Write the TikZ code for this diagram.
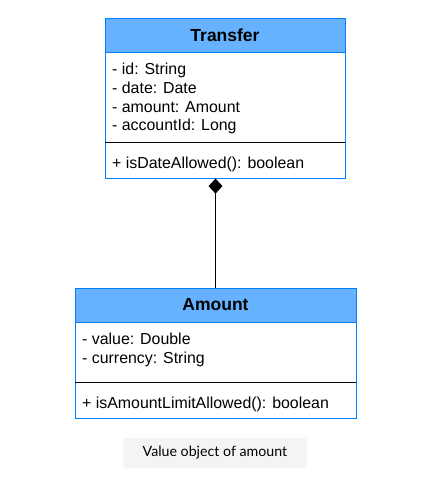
\documentclass[tikz,border=0pt]{standalone}
\usepackage{fontspec}
\setmainfont{Liberation Sans}
\newfontfamily\notefont{Lato}
\usetikzlibrary{positioning,arrows.meta}

\definecolor{headblue}{HTML}{66B2FF}
\definecolor{lineblue}{HTML}{007FFF}
\definecolor{notegray}{HTML}{F4F4F4}

\tikzset{
	head/.style={draw=lineblue,fill=headblue,minimum height=34pt,inner sep=0pt,
		font=\fontsize{17.5}{20}\selectfont\bfseries},
	part/.style={draw=lineblue,inner sep=0pt},
	member/.style={anchor=base west,inner sep=0pt,font=\fontsize{15.9}{19}\selectfont},
	composition/.style={{Diamond[length=15pt,width=14pt]}-,line width=1pt},
	note/.style={fill=notegray,rounded corners=3pt,minimum width=184pt,minimum height=30pt,
		inner sep=0pt,font=\notefont\fontsize{14.2}{16}\selectfont}
}

\begin{document}
\begin{tikzpicture}[x=1pt,y=-1pt]
	\useasboundingbox (0,0) rectangle (442,489);
	
	% Transfer
	\node[head,minimum width=240pt] (transferhead) at (225,35) {Transfer};
	\node[part,minimum width=240pt,minimum height=126pt,below=0pt of transferhead] (transferbody) {};
	\draw (transferbody.west |- 0,142)--(transferbody.east |- 0,142);
	
	\foreach \i/\t in {0/{- id: String},
		1/{- date: Date},
		2/{- amount: Amount},
		3/{- accountId: Long}%
	}
	{\node[member] (tattr\i) at (112,74.5+18.8*\i) {\t};}
	\node[member] (tmethod) at (112,168) {+ isDateAllowed(): boolean};
	
	% Amount
	\node[head,minimum width=281pt] (amounthead) at (215.5,305) {Amount};
	\node[part,minimum width=281pt,minimum height=96pt,below=0pt of amounthead] (amountbody) {};
	\draw (amountbody.west |- 0,382)--(amountbody.east |- 0,382);
	
	\foreach \i/\t in {0/{- value: Double},
		1/{- currency: String}%
	}
	{\node[member] (aattr\i) at (82,344.5+18.8*\i) {\t};}
	\node[member] (amethod) at (82,408.5) {+ isAmountLimitAllowed(): boolean};
	
	\draw[composition] (transferbody.south -| amounthead.north)--(amounthead.north);
	
	\node[note] (caption) at (215,453) {Value object of amount};
	
\end{tikzpicture}
\end{document}
